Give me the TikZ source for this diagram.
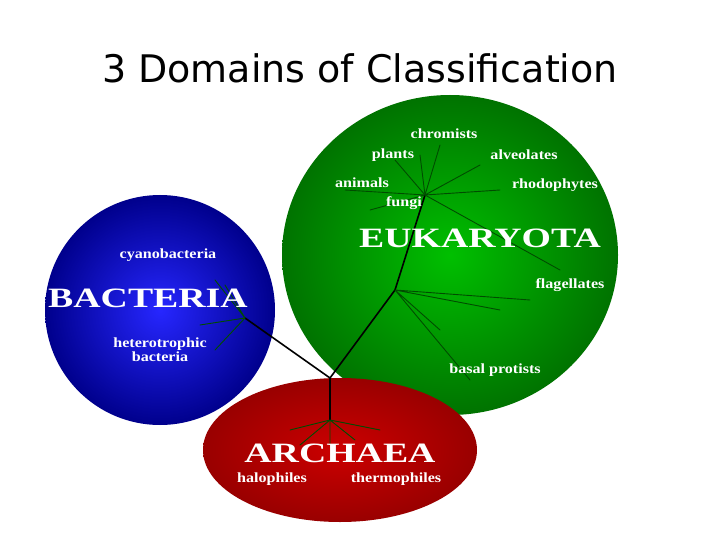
\documentclass[tikz,border=0pt]{standalone}
\usepackage{fontspec}
\setmainfont{Liberation Serif}
\newfontfamily\titlefont{DejaVu Sans}
\begin{document}
\begin{tikzpicture}[x=1pt,y=-1pt,
  lab/.style={text=white,font=\bfseries\fontsize{14}{14}\selectfont,align=center,xscale=1.15},
  big/.style={text=white,font=\bfseries\fontsize{28}{30}\selectfont,xscale=1.35},
  br/.style={black,line width=1.6pt,line cap=round},
  tw/.style={black!70!green,line width=0.9pt,line cap=round}]
\useasboundingbox[fill=white] (0,0) rectangle (720,540);
\node[font=\titlefont\fontsize{38}{40}\selectfont] (title) at (360,68) {3 Domains of Classification};
% domains
\shade[inner color=green!75!black,outer color=green!45!black] (450,255) ellipse [x radius=168, y radius=160];
\shade[inner color=blue!85!white,outer color=blue!55!black] (160,310) circle [radius=115];
\shade[inner color=red!80!black,outer color=red!60!black] (340,450) ellipse [x radius=137, y radius=72];
% tree
\coordinate (root) at (330,378);
\coordinate (bac) at (245,318);
\coordinate (arc) at (330,420);
\coordinate (euk) at (395,290);
\coordinate (euk2) at (425,195);
\draw[br] (root) -- (bac);
\draw[br] (root) -- (arc);
\draw[br] (root) -- (euk) -- (euk2);
\draw[tw] (bac) -- (215,280) (bac) -- (200,325) (bac) -- (215,350) (bac) -- (225,285);
\draw[tw] (arc) -- (290,430) (arc) -- (300,445) (arc) -- (355,440) (arc) -- (380,430) (arc) -- (330,445);
\draw[tw] (euk) -- (470,380) (euk) -- (440,330) (euk) -- (500,310) (euk) -- (530,300) (euk2) -- (560,270) (euk2) -- (395,160);
\draw[tw] (euk2) -- (345,190) (euk2) -- (370,210) (euk2) -- (440,145) (euk2) -- (480,165) (euk2) -- (500,190) (euk2) -- (420,155);
% labels
\node[big] (E) at (480,238) {EUKARYOTA};
\node[big] (B) at (148,298) {BACTERIA};
\node[big] (A) at (340,453) {ARCHAEA};
\node[lab] (l1) at (444,134) {chromists};
\node[lab] (l2) at (393,155) {plants};
\node[lab] (l3) at (524,155) {alveolates};
\node[lab] (l4) at (362,183) {animals};
\node[lab] (l5) at (555,185) {rhodophytes};
\node[lab] (l6) at (404,203) {fungi};
\node[lab] (l7) at (570,285) {flagellates};
\node[lab] (l8) at (495,370) {basal protists};
\node[lab] (l9) at (168,255) {cyanobacteria};
\node[lab] (l10) at (160,350) {heterotrophic\\bacteria};
\node[lab] (l11) at (272,479) {halophiles};
\node[lab] (l12) at (396,479) {thermophiles};
\end{tikzpicture}
\end{document}
